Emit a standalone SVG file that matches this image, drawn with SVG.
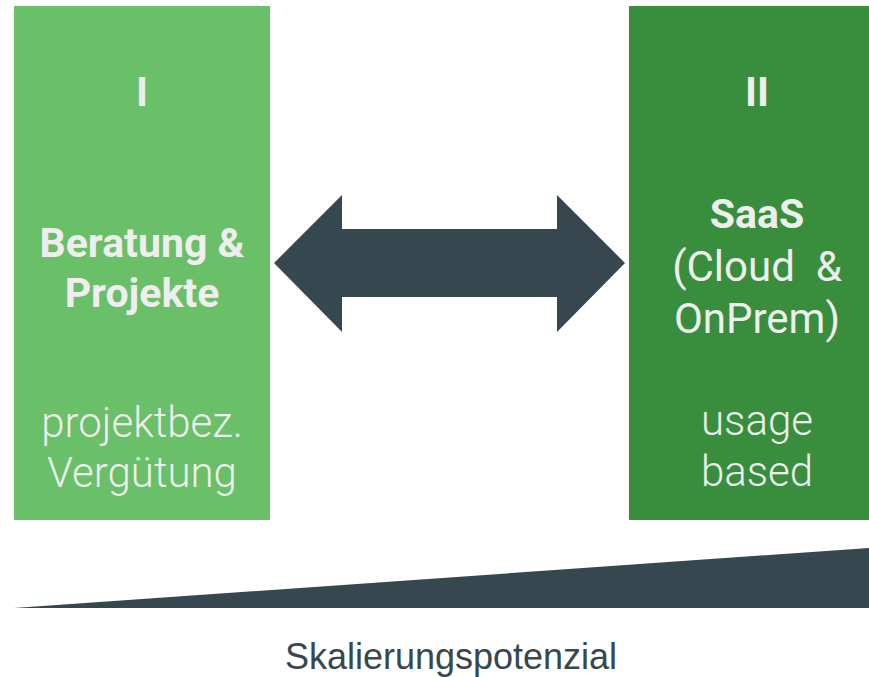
<svg xmlns="http://www.w3.org/2000/svg" width="869" height="677" viewBox="0 0 869 677">
<style>
.t{font-family:Roboto,"Liberation Sans",sans-serif;font-size:41px;fill:#EEEEEE;text-anchor:middle}
.b{font-weight:bold}
.l{font-weight:300;font-size:42px}
.r{font-weight:400;font-size:42px}
.dark{fill:#37474F}
</style>
<rect width="869" height="677" fill="#FFFFFF"/>
<g id="node-1">
<rect x="14" y="6" width="256" height="514" fill="#6ABF69"/>
<text class="t b" x="142" y="106">I</text>
<text class="t b" x="142" y="257">Beratung &amp;</text>
<text class="t b" x="142" y="307">Projekte</text>
<text class="t l" x="142" y="437">projektbez.</text>
<text class="t l" x="142" y="487">Vergütung</text>
</g>
<g id="node-2">
<rect x="629" y="6" width="240" height="514" fill="#388E3C"/>
<text class="t b" x="757" y="106">II</text>
<text class="t b" x="757" y="228">SaaS</text>
<text class="t r" x="757" y="281" xml:space="preserve">(Cloud  &amp;</text>
<text class="t r" x="757" y="333">OnPrem)</text>
<text class="t l" x="757" y="435">usage</text>
<text class="t l" x="757" y="486">based</text>
</g>
<g id="connectors">
<polygon class="dark" points="274,263 342,195 342,229 557,229 557,195 625,263 557,332 557,297 342,297 342,332"/>
</g>
<g id="scale">
<polygon class="dark" points="14,608 869,548 869,608"/>
<text x="451" y="669" font-family="'Liberation Sans',Arial,sans-serif" font-size="36" fill="#37474F" text-anchor="middle">Skalierungspotenzial</text>
</g>
</svg>
